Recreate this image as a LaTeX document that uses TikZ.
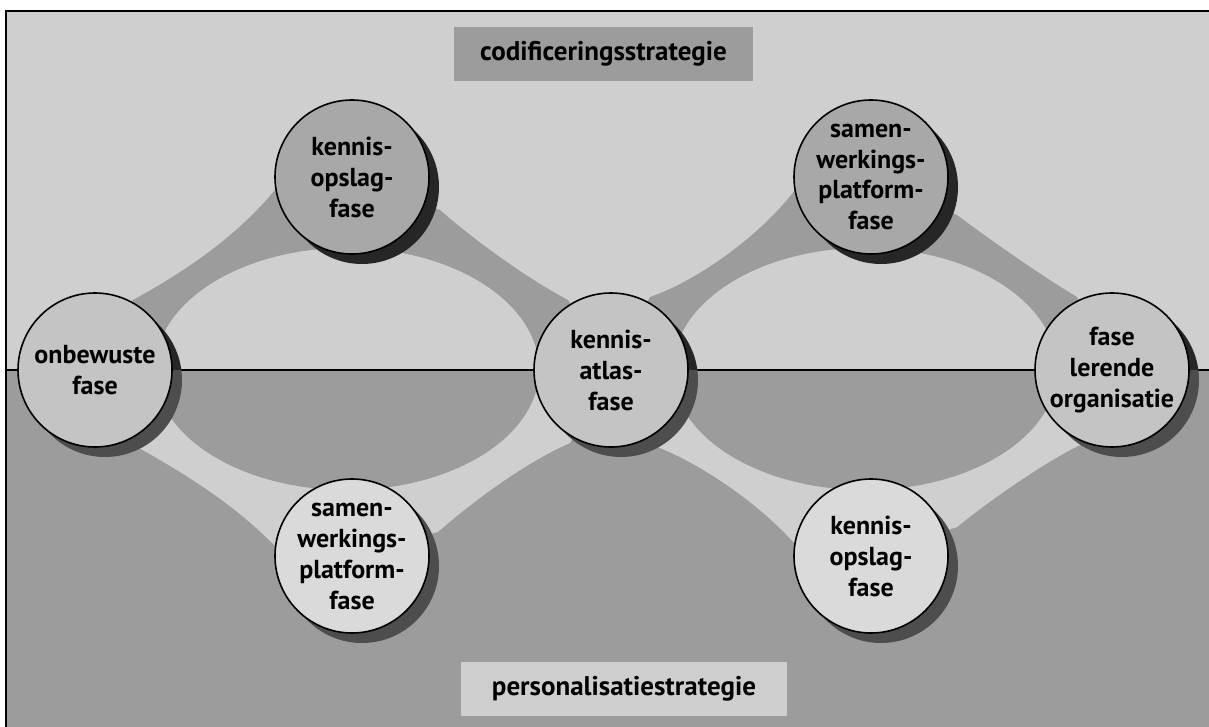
\documentclass[tikz,border=0pt]{standalone}
\usepackage{fontspec}
\setmainfont{PT Sans}
\definecolor{bglight}{HTML}{CFCFCF}
\definecolor{bgdark}{HTML}{9C9C9C}
\definecolor{cmid}{HTML}{C4C4C4}
\definecolor{ctop}{HTML}{A8A8A8}
\definecolor{cbot}{HTML}{DADADA}
\definecolor{shtop}{HTML}{262626}
\definecolor{shbot}{HTML}{4D4D4D}
\begin{document}
\begin{tikzpicture}[x=0.5pt,y=-0.5pt,
  phase/.style={circle, draw=black, line width=0.8pt, minimum size=77pt,
    inner sep=0pt, outer sep=0pt, align=center,
    font=\fontsize{13}{15.5}\selectfont\bfseries},
  labelbox/.style={inner sep=0pt, minimum width=149.5pt, minimum height=27pt,
    font=\fontsize{13.5}{16}\selectfont\bfseries}]
\useasboundingbox (0,0) rectangle (1209,727);
% backgrounds
\fill[bglight] (6,11) rectangle (1215,370);
\fill[bgdark] (6,370) rectangle (1215,735);
% circle centres
\coordinate (p1) at (95,370);
\coordinate (p2) at (352,177);
\coordinate (p3) at (611,370);
\coordinate (p4) at (352,556);
\coordinate (p5) at (1112,370);
\coordinate (p6) at (871,177);
\coordinate (p7) at (871,556);
% top band (dark)
\fill[bgdark] (p1) -- (133,300) .. controls (186,271) and (237,236) .. (275,190)
  -- (p2) -- (440,210) .. controls (474,240) and (528,279) .. (568,300)
  -- (p3) -- (650,297) .. controls (697,281) and (760,236) .. (795,190)
  -- (p6) -- (957,215) .. controls (990,240) and (1045,278) .. (1077,297)
  -- (p5) -- cycle;
\begin{scope}
  \clip (0,0) rectangle (1209,370);
  \fill[bglight] (347,370) ellipse [x radius=192, y radius=122];
  \fill[bglight] (865,370) ellipse [x radius=192, y radius=122];
\end{scope}
% bottom band (light)
\fill[bglight] (p1) -- (130,443) .. controls (183,472) and (234,504) .. (274,545)
  -- (p4) -- (438,532) .. controls (474,500) and (528,461) .. (570,443)
  -- (p3) -- (652,445) .. controls (697,461) and (758,502) .. (796,545)
  -- (p7) -- (957,527) .. controls (990,500) and (1045,462) .. (1080,445)
  -- (p5) -- cycle;
\begin{scope}
  \clip (0,370) rectangle (1209,727);
  \fill[bgdark] (347,370) ellipse [x radius=192, y radius=120];
  \fill[bgdark] (865,370) ellipse [x radius=192, y radius=120];
\end{scope}
% frame and middle line
\coordinate (fl) at (6,370);
\coordinate (fr) at (1215,370);
\draw[line width=1pt] (fl) -- (fr);
\draw[line width=1.2pt] (6,735) -- (6,11) -- (1215,11);
% shadows
\begin{scope}
  \clip (0,0) rectangle (1209,370);
  \foreach \p in {p1,p2,p3,p5,p6}
    \fill[shtop] ([shift={(10,10)}]\p) circle [radius=77];
\end{scope}
\begin{scope}
  \clip (0,370) rectangle (1209,727);
  \foreach \p in {p1,p3,p4,p5,p7}
    \fill[shbot] ([shift={(10,10)}]\p) circle [radius=77];
\end{scope}
% circles
\node[phase, fill=cmid] (c1) at (p1) {onbewuste\\fase};
\node[phase, fill=ctop] (c2) at (p2) {kennis-\\opslag-\\fase};
\node[phase, fill=cmid] (c3) at (p3) {kennis-\\atlas-\\fase};
\node[phase, fill=cbot] (c4) at (p4) {samen-\\werkings-\\platform-\\fase};
\node[phase, fill=cmid] (c5) at (p5) {fase\\lerende\\organisatie};
\node[phase, fill=ctop] (c6) at (p6) {samen-\\werkings-\\platform-\\fase};
\node[phase, fill=cbot] (c7) at (p7) {kennis-\\opslag-\\fase};
% labels
\node[labelbox, fill=bgdark] (top) at (603.5,54) {codificeringsstrategie};
\node[labelbox, fill=bglight, minimum width=163pt] (bot) at (624,689) {personalisatiestrategie};
\end{tikzpicture}
\end{document}
